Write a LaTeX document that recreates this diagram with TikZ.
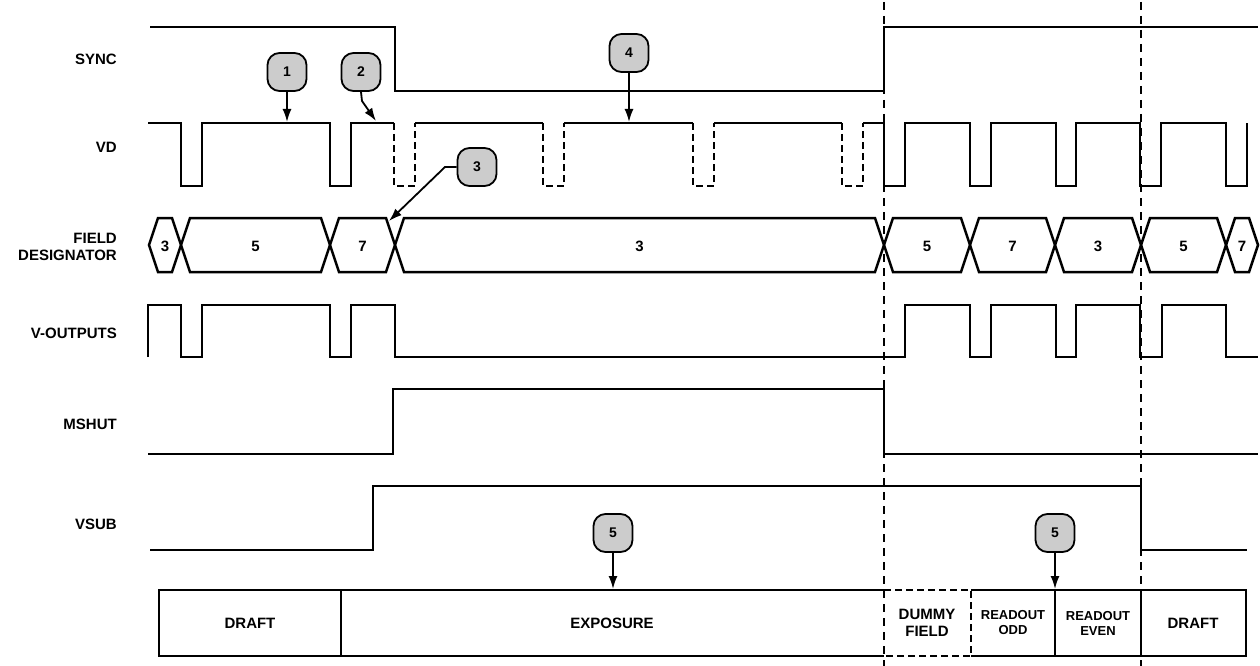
\documentclass[tikz,border=0pt]{standalone}
\usepackage{fontspec}
\setmainfont{Liberation Sans}
\usetikzlibrary{arrows.meta}
\definecolor{calloutgray}{RGB}{204,204,204}
\tikzset{
 wave/.style={line width=2.5pt, line join=miter},
 dwave/.style={line width=2.5pt, dash pattern=on 7pt off 4pt},
 guide/.style={line width=1.8pt, dash pattern=on 8pt off 6pt},
 lbl/.style={anchor=east, inner sep=0pt, font=\fontsize{15}{17}\selectfont\bfseries, align=right},
 val/.style={inner sep=0pt, font=\fontsize{15}{17}\selectfont\bfseries, align=center},
 sval/.style={inner sep=0pt, font=\fontsize{13}{15}\selectfont\bfseries, align=center},
 callout/.style={draw, line width=1.8pt, fill=calloutgray, rounded corners=12pt, minimum width=39pt, minimum height=38pt, inner sep=0pt, font=\fontsize{14}{16}\selectfont\bfseries},
 ptr/.style={line width=1.8pt, -{Latex[length=13pt,width=9pt]}},
}
\begin{document}
\begin{tikzpicture}[x=1pt,y=-1pt]
\useasboundingbox (0,0) rectangle (1260,666);

% guide lines
\draw[guide] (884,2) -- (884,666);
\draw[guide] (1141,2) -- (1141,666);

% labels
\node[lbl] (lsync) at (117,59) {SYNC};
\node[lbl] (lvd) at (117,147) {VD};
\node[lbl] (lfd) at (117,247) {FIELD\\DESIGNATOR};
\node[lbl] (lvo) at (117,333) {V-OUTPUTS};
\node[lbl] (lms) at (117,424) {MSHUT};
\node[lbl] (lvs) at (117,524) {VSUB};

% SYNC
\draw[wave] (150,27) -- (395,27) -- (395,91) -- (884,91) -- (884,27) -- (1258,27);

% VD
\draw[wave] (148,123) -- (181,123) -- (181,186) -- (202,186) -- (202,123) -- (330,123) -- (330,186) -- (351,186) -- (351,123) -- (394,123);
\draw[dwave] (394,123) -- (394,186) -- (415,186) -- (415,123);
\draw[wave] (415,123) -- (543,123);
\draw[dwave] (543,123) -- (543,186) -- (564,186) -- (564,123);
\draw[wave] (564,123) -- (693,123);
\draw[dwave] (693,123) -- (693,186) -- (714,186) -- (714,123);
\draw[wave] (714,123) -- (842,123);
\draw[dwave] (842,123) -- (842,186) -- (863,186) -- (863,123);
\draw[wave] (863,123) -- (884,123) -- (884,186) -- (905,186) -- (905,123) -- (970,123) -- (970,186) -- (991,186) -- (991,123) -- (1056,123) -- (1056,186) -- (1076,186) -- (1076,123) -- (1140,123) -- (1140,186) -- (1161,186) -- (1161,123) -- (1226,123) -- (1226,186) -- (1247,186) -- (1247,123);

% FIELD DESIGNATOR
\foreach \a/\b/\v [count=\i] in {149/181/3, 181/330/5, 330/395/7, 395/884/3, 884/970/5, 970/1055/7, 1055/1141/3, 1141/1226/5, 1226/1258/7}{
  \draw[wave] (\a,245) -- (\a+9,218) -- (\b-9,218) -- (\b,245) -- (\b-9,272) -- (\a+9,272) -- cycle;
  \node[val] (fd\i) at ({(\a+\b)/2},246) {\v};
}

% V-OUTPUTS
\draw[wave] (148,357) -- (148,305) -- (181,305) -- (181,357) -- (202,357) -- (202,305) -- (330,305) -- (330,357) -- (351,357) -- (351,305) -- (395,305) -- (395,357)
  -- (905,357) -- (905,305) -- (970,305) -- (970,357) -- (991,357) -- (991,305) -- (1056,305) -- (1056,357) -- (1076,357) -- (1076,305) -- (1140,305) -- (1140,357) -- (1162,357) -- (1162,305) -- (1226,305) -- (1226,357) -- (1258,357);

% MSHUT
\draw[wave] (148,454) -- (393,454) -- (393,389) -- (884,389) -- (884,454) -- (1258,454);

% VSUB
\draw[wave] (150,550) -- (373,550) -- (373,486) -- (1141,486) -- (1141,550) -- (1247,550);

% bottom boxes
\draw[wave] (884,590) -- (159,590) -- (159,656) -- (884,656);
\draw[wave] (341,590) -- (341,656);
\draw[dwave] (884,590) -- (971,590) -- (971,656) -- (884,656);
\draw[wave] (971,590) -- (1246,590) -- (1246,656) -- (971,656);
\draw[wave] (1055,590) -- (1055,656);
\draw[wave] (1141,590) -- (1141,656);
\node[val] (bdraft1) at (250,623) {DRAFT};
\node[val] (bexp) at (612,623) {EXPOSURE};
\node[val] (bdummy) at (927,623) {DUMMY\\FIELD};
\node[sval] (bodd) at (1013,623) {READOUT\\ODD};
\node[sval] (beven) at (1098,623) {READOUT\\EVEN};
\node[val] (bdraft2) at (1193,623) {DRAFT};

% callouts
\node[callout] (c1) at (287,72) {1};
\node[callout] (c2) at (361,72) {2};
\node[callout] (c3) at (477,167) {3};
\node[callout] (c4) at (629,53) {4};
\node[callout] (c5a) at (613,533) {5};
\node[callout] (c5b) at (1055,533) {5};

\coordinate (t1) at (287,122);
\coordinate (t2) at (376,121);
\coordinate (t3) at (389,221);
\coordinate (t4) at (629,122);
\coordinate (t5a) at (613,589);
\coordinate (t5b) at (1055,589);

\draw[ptr] (c1.south) -- (t1);
\draw[ptr] (c2.south) -- (362,101) -- (t2);
\draw[ptr] (c3.west) -- (445,167) -- (t3);
\draw[ptr] (c4.south) -- (t4);
\draw[ptr] (c5a.south) -- (t5a);
\draw[ptr] (c5b.south) -- (t5b);
\end{tikzpicture}
\end{document}
